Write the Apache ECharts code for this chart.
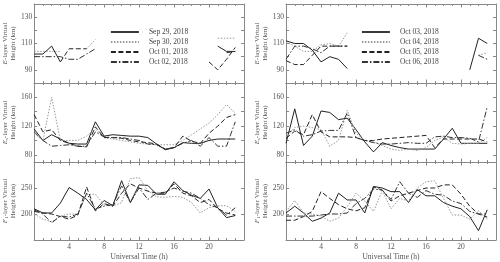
<!DOCTYPE html>
<html><head><meta charset="utf-8">
<script src="https://cdn.jsdelivr.net/npm/echarts@6/dist/echarts.min.js"></script>
<style>html,body{margin:0;padding:0;background:#fff}#c{width:500px;height:262px}</style>
</head><body><div id="c"></div>
<script>
// ---- data ----
const hours = [0,1,2,3,4,5,6,7,8,9,10,11,12,13,14,15,16,17,18,19,20,21,22,23];
const leftNames  = ['Sep 29, 2018','Sep 30, 2018','Oct 01, 2018','Oct 02, 2018'];
const rightNames = ['Oct 03, 2018','Oct 04, 2018','Oct 05, 2018','Oct 06, 2018'];
const xTickLabels = [4,8,12,16,20];
const eTicks = [90,100,110,120,130];   const eLabels = [90,110,130];
const esTicks = [80,100,120,140,160];  const esLabels = [80,120,160];
const f1Ticks = [200,250];             const f1Labels = [200,250];

// E-layer
const eSep29 = [102,102,108,96,null,null,null,null,null,null,null,null,null,null,null,null,null,null,null,null,null,108,104,104];
const eSep30 = [104,104,104,104,null,null,106,113,null,null,null,null,null,null,null,null,null,null,null,null,null,114,114,114];
const eOct01 = [null,null,null,96,106,106,106,null,null,null,null,null,null,null,null,null,null,null,null,null,96,90,98,107];
const eOct02 = [100,100,100,100,98,98,102,106,null,null,null,null,null,null,null,null,null,null,null,null,null,null,103,104];
const eOct03 = [112,110,110,105,96,100,98,91,null,null,null,null,null,null,null,null,null,null,null,null,null,90,114,110];
const eOct04 = [111,108,104,104,109,110,108,118,null,null,null,null,null,null,null,null,null,null,null,null,null,null,101,103];
const eOct05 = [97,94,94,101,108,108,108,108,null,null,null,null,null,null,null,null,null,null,null,null,null,null,null,null];
const eOct06 = [98,108,108,106,103,108,108,108,null,null,null,null,null,null,null,null,null,null,null,null,null,null,101,98];
// Es-layer
const esSep29 = [116,100,108,102,96,95,95,126,106,108,107,106,106,104,95,87,90,97,96,96,100,102,102,102];
const esSep30 = [110,100,160,100,100,100,106,116,104,102,100,98,96,95,94,94,94,100,108,116,124,136,150,138];
const esOct01 = [136,112,115,100,96,92,91,119,104,104,103,100,98,97,95,88,90,106,99,96,110,120,132,136];
const esOct02 = [112,100,92,93,94,92,92,112,105,104,104,102,100,95,94,88,90,96,100,92,104,92,92,126];
const esOct03 = [96,144,93,106,141,139,129,131,115,98,84,97,93,90,88,88,88,88,102,117,96,96,96,96];
const esOct04 = [105,118,120,118,115,92,100,142,110,100,98,93,88,86,88,86,90,100,105,96,95,96,96,104];
const esOct05 = [103,113,108,136,112,105,105,105,104,100,100,102,103,104,105,106,107,90,102,102,102,102,102,98];
const esOct06 = [110,115,106,108,113,114,114,138,104,100,97,95,95,96,97,96,96,105,106,104,104,103,98,147];
// F1-layer
const fSep29 = [210,202,202,221,251,240,228,208,226,216,264,222,256,255,238,238,262,245,236,230,248,212,193,197];
const fSep30 = [200,190,185,196,200,200,238,238,218,215,222,268,270,245,233,232,234,232,222,202,212,216,216,205];
const fOct01 = [205,202,200,195,190,198,252,206,220,215,240,258,250,244,240,240,258,240,235,222,228,210,202,198];
const fOct02 = [208,200,183,196,194,200,240,210,215,218,254,222,250,228,240,242,250,244,240,230,218,212,198,212];
const fOct03 = [202,215,202,186,192,202,240,227,227,202,253,250,243,243,222,247,235,235,222,215,210,195,168,208];
const fOct04 = [205,226,202,200,196,186,192,214,240,225,205,245,210,230,225,250,262,264,230,198,198,190,206,190];
const fOct05 = [188,188,195,205,243,230,218,210,206,212,252,246,225,235,240,245,250,250,256,256,238,215,200,194];
const fOct06 = [196,196,196,196,198,200,200,202,220,230,248,246,228,262,240,232,245,238,236,225,220,205,200,200];

// ---- styling ----
const FONT = '"Liberation Serif", "DejaVu Serif", serif';
const AXC = '#888';
const styles = [
  {color:'#222', type:'solid'},
  {color:'#999', type:[1.5,1.5]},
  {color:'#222', type:[5,2.5]},
  {color:'#333', type:[6,2,1.5,2]}
];
const panels = [
  {col:0,row:0,data:[eSep29,eSep30,eOct01,eOct02],names:leftNames},
  {col:1,row:0,data:[eOct03,eOct04,eOct05,eOct06],names:rightNames},
  {col:0,row:1,data:[esSep29,esSep30,esOct01,esOct02],names:leftNames},
  {col:1,row:1,data:[esOct03,esOct04,esOct05,esOct06],names:rightNames},
  {col:0,row:2,data:[fSep29,fSep30,fOct01,fOct02],names:leftNames},
  {col:1,row:2,data:[fOct03,fOct04,fOct05,fOct06],names:rightNames}
];
const rows = [
  {top:4, height:79, min:80, max:140, ticks:eTicks, labels:eLabels, name:'{i|E}-layer Virtual\nHeight (km)'},
  {top:83, height:79, min:70, max:180, ticks:esTicks, labels:esLabels, name:'{i|E}{s|s}-layer Virtual\nHeight (km)'},
  {top:162, height:78.5, min:150, max:300, ticks:f1Ticks, labels:f1Labels, name:'{i|F}{s|1}-layer Virtual\nHeight (km)'}
];
const cols = [{left:34}, {left:286}];

const grid=[], xAxis=[], yAxis=[], series=[];
panels.forEach((p,i)=>{
  const r = rows[p.row], c = cols[p.col];
  grid.push({left:c.left, top:r.top, width:210, height:r.height});
  const xBase = {gridIndex:i, type:'value', min:0, max:24, interval:4,
    axisLine:{show:true,onZero:false,lineStyle:{color:AXC,width:1}},
    axisTick:{show:true,inside:true,length:3.5,lineStyle:{color:AXC}},
    minorTick:{show:true,splitNumber:4,length:2,lineStyle:{color:AXC}},
    splitLine:{show:false}};
  const isBottom = p.row===2;
  xAxis.push(Object.assign({}, xBase, {position:'bottom',
    axisLabel:{show:isBottom, customValues:xTickLabels, fontFamily:FONT, fontSize:7.5, color:'#555', margin:3},
    name: isBottom ? 'Universal Time (h)' : '', nameLocation:'middle', nameGap:13,
    nameTextStyle:{fontFamily:FONT, fontSize:7.5, color:'#555'}}));
  xAxis.push(Object.assign({}, xBase, {position:'top', axisLabel:{show:false}}));
  const yBase = {gridIndex:i, type:'value', min:r.min, max:r.max,
    axisLine:{show:true,onZero:false,lineStyle:{color:AXC,width:1}},
    axisTick:{show:true,inside:true,length:3,customValues:r.ticks,lineStyle:{color:AXC}},
    splitLine:{show:false}};
  yAxis.push(Object.assign({}, yBase, {position:'left',
    axisLabel:{customValues:r.labels, fontFamily:FONT, fontSize:7.5, color:'#555', margin:2},
    name:r.name, nameLocation:'middle', nameGap:13,
    nameTextStyle:{fontFamily:FONT, fontSize:7, color:'#555', lineHeight:8,
      rich:{i:{fontFamily:FONT,fontSize:7,fontStyle:'italic',color:'#555'},
            s:{fontFamily:FONT,fontSize:5,color:'#555',verticalAlign:'bottom'}}}}));
  yAxis.push(Object.assign({}, yBase, {position:'right', axisLabel:{show:false}}));
  p.data.forEach((arr,k)=>{
    series.push({type:'line', name:p.names[k], xAxisIndex:2*i, yAxisIndex:2*i,
      data: hours.map((h,j)=>[h, arr[j]]), symbol:'none', showSymbol:false,
      connectNulls:false, silent:true,
      lineStyle:{color:styles[k].color, width:1, type:styles[k].type},
      itemStyle:{color:styles[k].color}});
  });
});

const legendBase = {orient:'vertical', top:28, itemWidth:28, itemHeight:7, itemGap:2,
  padding:0, selectedMode:false,
  itemStyle:{opacity:0},
  lineStyle:{width:1.8},
  textStyle:{fontFamily:FONT, fontSize:7.5, color:'#444', padding:[0,0,0,5]}};
const legend = [
  Object.assign({}, legendBase, {data:leftNames, left:110}),
  Object.assign({}, legendBase, {data:rightNames, left:361})
];

const chart = echarts.init(document.getElementById('c'), null, {renderer:'canvas'});
chart.setOption({animation:false, backgroundColor:'#fff', grid, xAxis, yAxis, series, legend});
</script></body></html>
